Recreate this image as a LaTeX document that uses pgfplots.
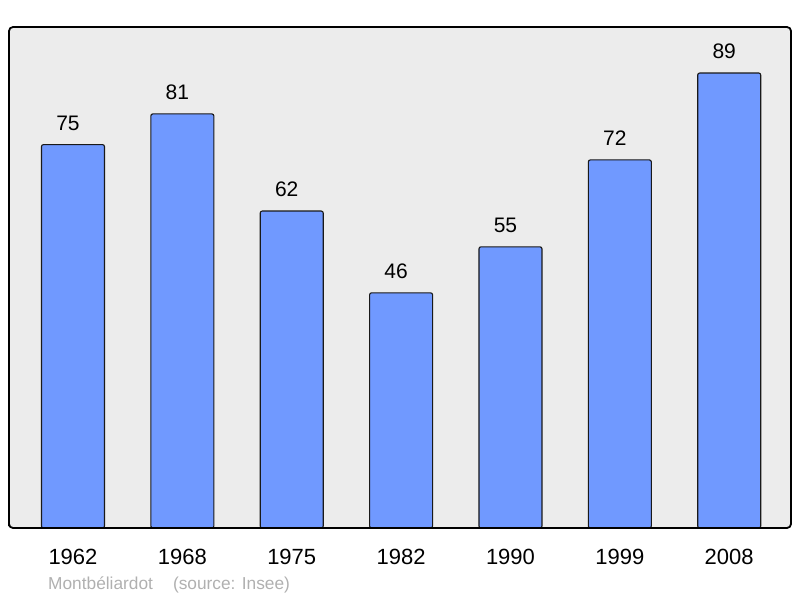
\documentclass[border=0pt]{standalone}
\usepackage{pgfplots}
\pgfplotsset{compat=1.18}
\usepackage{fontspec}
\setmainfont{Liberation Sans}
\definecolor{bgc}{HTML}{ECECEC}
\definecolor{barc}{HTML}{7099FF}
\definecolor{footc}{HTML}{B0B0B0}
\begin{document}
\begin{tikzpicture}[x=1pt,y=1pt]
\begin{axis}[
  at={(9pt,70pt)}, anchor=south west,
  scale only axis, width=782pt, height=501pt,
  xmin=-0.585, xmax=6.565, ymin=0, ymax=98,
  axis background/.style={fill=bgc},
  axis line style={line width=1.8pt, rounded corners=4pt, line join=round},
  axis on top,
  xtick={0,1,2,3,4,5,6},
  xticklabels={1962,1968,1975,1982,1990,1999,2008},
  xticklabel style={anchor=base, yshift=-36pt, inner sep=0pt, font=\fontsize{22}{26}\selectfont},
  ytick=\empty,
  major tick length=0pt,
  clip=false,
  /pgf/number format/assume math mode=true,
  nodes near coords,
  every node near coord/.append style={anchor=base, yshift=14.5pt, xshift=-5pt, inner sep=0pt, font=\fontsize{21}{25}\selectfont, text=black},
]
\addplot[ybar, bar width=0.576, fill=barc, draw=black!90, line width=1.1pt, rounded corners=2pt]
  coordinates {(0,75) (1,81) (2,62) (3,46) (4,55) (5,72) (6,89)};
\end{axis}
\node[anchor=base west, inner sep=0pt, text=footc, font=\fontsize{17.3}{20}\selectfont] at (48pt,8.5pt) {Montbéliardot\hspace{20pt}(source: Insee)};
\pgfresetboundingbox
\path[use as bounding box] (0,0) rectangle (800pt,598pt);
\end{tikzpicture}
\end{document}
